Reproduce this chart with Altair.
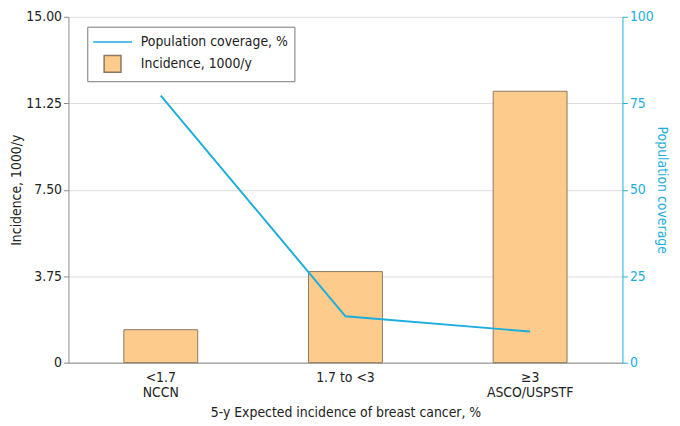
import altair as alt
import pandas as pd

categories = ["<1.7\nNCCN", "1.7 to <3", "≥3\nASCO/USPSTF"]
incidence = [1.43, 3.95, 11.77]
coverage = [77.2, 13.4, 9.0]

SER_LINE = "Population coverage, %"
SER_BAR = "Incidence, 1000/y"
CYAN = "#1CAEDD"
ORANGE = "#FDCB8C"
BROWN = "#8C7862"
FONT = "DejaVu Sans Condensed, Liberation Sans, sans-serif"

bar_df = pd.DataFrame({"cat": categories, "value": incidence, "series": SER_BAR})
line_df = pd.DataFrame({"cat": categories, "value": coverage, "series": SER_LINE})
both_df = pd.concat([line_df, bar_df], ignore_index=True)

domain = [SER_LINE, SER_BAR]
fill_scale = alt.Scale(domain=domain, range=[CYAN, ORANGE])
stroke_scale = alt.Scale(domain=domain, range=[CYAN, BROWN])
shape_scale = alt.Scale(domain=domain, range=["M-2.3,0L2.3,0", "M-1,-1L1,-1L1,1L-1,1Z"])

legend = alt.Legend(
    title=None,
    orient="none",
    legendX=19,
    legendY=10,
    strokeColor="#777",
    fillColor="white",
    padding=6,
    labelFontSize=14,
    labelFont=FONT,
    labelColor="#222",
    symbolSize=289,
    symbolStrokeWidth=1.5,
    symbolOpacity=1,
    symbolOffset=10,
    rowPadding=3,
    labelOffset=19,
)

x_enc = alt.X(
    "cat:N",
    sort=categories,
    scale=alt.Scale(paddingInner=0.6, paddingOuter=0.3),
    axis=alt.Axis(
        title="5-y Expected incidence of breast cancer, %",
        labelAngle=0,
        labelExpr="split(datum.label, '\\n')",
        ticks=False,
        labelPadding=8,
        labelLineHeight=15,
        domainColor="#8a8a8a",
        titlePadding=6,
        labelColor="#222",
        titleColor="#222",
    ),
)

bars = alt.Chart(bar_df).mark_bar(stroke=BROWN, strokeWidth=1).encode(
    x=x_enc,
    y=alt.Y(
        "value:Q",
        scale=alt.Scale(domain=[0, 15]),
        axis=alt.Axis(
            title="Incidence, 1000/y",
            values=[0, 3.75, 7.5, 11.25, 15],
            labelExpr="datum.value == 0 ? '0' : format(datum.value, '.2f')",
            grid=True,
            gridColor="#dcdcdc",
            domainColor="#8a8a8a",
            tickColor="#8a8a8a",
            tickSize=5,
            labelColor="#222",
            titleColor="#222",
            titlePadding=2,
        ),
    ),
    fill=alt.Fill("series:N", scale=fill_scale, legend=legend),
)

line = alt.Chart(line_df).mark_line(strokeWidth=2).encode(
    x=alt.X("cat:N", sort=categories),
    y=alt.Y(
        "value:Q",
        scale=alt.Scale(domain=[0, 100]),
        axis=alt.Axis(
            title="Population coverage",
            orient="right",
            values=[0, 25, 50, 75, 100],
            grid=False,
            domainColor=CYAN,
            tickColor=CYAN,
            labelColor=CYAN,
            titleColor=CYAN,
            tickSize=5,
            titlePadding=1,
        ),
    ),
    stroke=alt.Stroke("series:N", scale=stroke_scale, legend=legend),
)

keys = alt.Chart(both_df).transform_filter("false").mark_point(filled=True).encode(
    fill=alt.Fill("series:N", scale=fill_scale, legend=legend),
    stroke=alt.Stroke("series:N", scale=stroke_scale, legend=legend),
    shape=alt.Shape("series:N", scale=shape_scale, legend=legend),
)

chart = (
    alt.layer(bars, line, keys)
    .resolve_scale(y="independent")
    .properties(
        width=559,
        height=349,
        autosize=alt.AutoSizeParams(type="none"),
        padding={"left": 61, "top": 7, "right": 50, "bottom": 58},
    )
    .configure_view(stroke=None)
    .configure_axis(
        labelFont=FONT,
        titleFont=FONT,
        labelFontSize=14,
        titleFontSize=14,
        titleFontWeight="normal",
    )
)

chart.save("out.html", embed_options={"renderer": "svg", "actions": False})
